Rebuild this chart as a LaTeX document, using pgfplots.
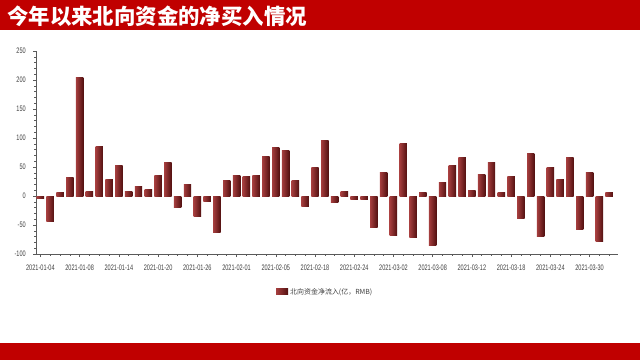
\documentclass[border=0pt]{standalone}
\usepackage{pgfplots}
\pgfplotsset{compat=1.18}
\usepackage{fontspec}
\setmainfont{Liberation Sans}
\newfontfamily\cjk{Noto Sans CJK SC}
\newfontfamily\narrow[FakeStretch=0.7]{Liberation Sans}
\definecolor{hdr}{RGB}{192,0,0}
\definecolor{barL}{RGB}{165,62,62}
\definecolor{barM}{RGB}{132,36,36}
\definecolor{barR}{RGB}{82,16,16}
\definecolor{axgray}{RGB}{90,90,90}
\pgfplotsset{barsty/.style={ybar, bar width=0.76, bar shift=0pt, draw=none,
  left color=barL, middle color=barM, right color=barR}}
\newcommand\B[2]{\addplot[barsty, forget plot] coordinates {(#1,#2)};}
\begin{document}
\begin{tikzpicture}[x=1bp,y=1bp]
\useasboundingbox (0,0) rectangle (640,360);
\fill[hdr] (0,330) rectangle (640,360);
\fill[hdr] (0,0) rectangle (640,17);
\node[anchor=west, text=white, font=\cjk\bfseries\fontsize{21.5}{23}\selectfont, inner sep=0pt] at (7,344) {今年以来北向资金的净买入情况};
\begin{axis}[
  at={(36bp,106bp)}, anchor=south west,
  scale only axis, width=582bp, height=203bp,
  xmin=-0.45, xmax=58.9, ymin=-100, ymax=250,
  axis x line*=bottom, axis y line*=left,
  axis line style={draw=axgray, line width=0.6pt, -},
  tick style={draw=axgray, line width=0.5pt},
  tick align=outside,
  major tick length=3bp, minor tick length=1.6bp,
  ytick={-100,-50,...,250},
  yticklabels={-100,-50,0,50,100,150,200,250},
  minor y tick num=4,
  xtick={0,4,...,56},
  minor xtick={0,1,...,58},
  xticklabels={2021-01-04,2021-01-08,2021-01-14,2021-01-20,2021-01-26,2021-02-01,2021-02-05,2021-02-18,2021-02-24,2021-03-02,2021-03-08,2021-03-12,2021-03-18,2021-03-24,2021-03-30},
  yticklabel style={font=\narrow\fontsize{8}{8}\selectfont, text=black!75, inner sep=0pt, anchor=east, xshift=-7bp},
  xticklabel style={font=\narrow\fontsize{8}{8}\selectfont, text=black!75, inner sep=0pt, anchor=north, yshift=-8bp},
  legend style={draw=none, fill=none, at={(0.497,-0.187)}, anchor=center,
    font=\cjk\fontsize{7}{8}\selectfont, text=black!75, inner sep=1pt},
  legend cell align=left,
]
\addplot[barsty,
  legend image code/.code={\fill[left color=barL, middle color=barM, right color=barR] (0bp,-3bp) rectangle (12bp,3bp);}]
coordinates {(0,-4)};
\addlegendentry{北向资金净流入(亿，RMB)}
\B{1}{-44} \B{2}{6} \B{3}{32} \B{4}{205} \B{5}{8} \B{6}{85} \B{7}{28} \B{8}{52} \B{9}{8}
\B{10}{17} \B{11}{11} \B{12}{35} \B{13}{57} \B{14}{-19} \B{15}{19} \B{16}{-35} \B{17}{-10} \B{18}{-63} \B{19}{26}
\B{20}{35} \B{21}{33} \B{22}{35} \B{23}{68} \B{24}{83} \B{25}{79} \B{26}{26} \B{27}{-18} \B{28}{50} \B{29}{96}
\B{30}{-11} \B{31}{7} \B{32}{-6} \B{33}{-6} \B{34}{-54} \B{35}{40} \B{36}{-68} \B{37}{90} \B{38}{-71} \B{39}{6}
\B{40}{-85} \B{41}{24} \B{42}{52} \B{43}{67} \B{44}{9} \B{45}{37} \B{46}{57} \B{47}{6} \B{48}{33} \B{49}{-39}
\B{50}{73} \B{51}{-70} \B{52}{50} \B{53}{29} \B{54}{66} \B{55}{-57} \B{56}{40} \B{57}{-78} \B{58}{6}
\end{axis}
\end{tikzpicture}
\end{document}
